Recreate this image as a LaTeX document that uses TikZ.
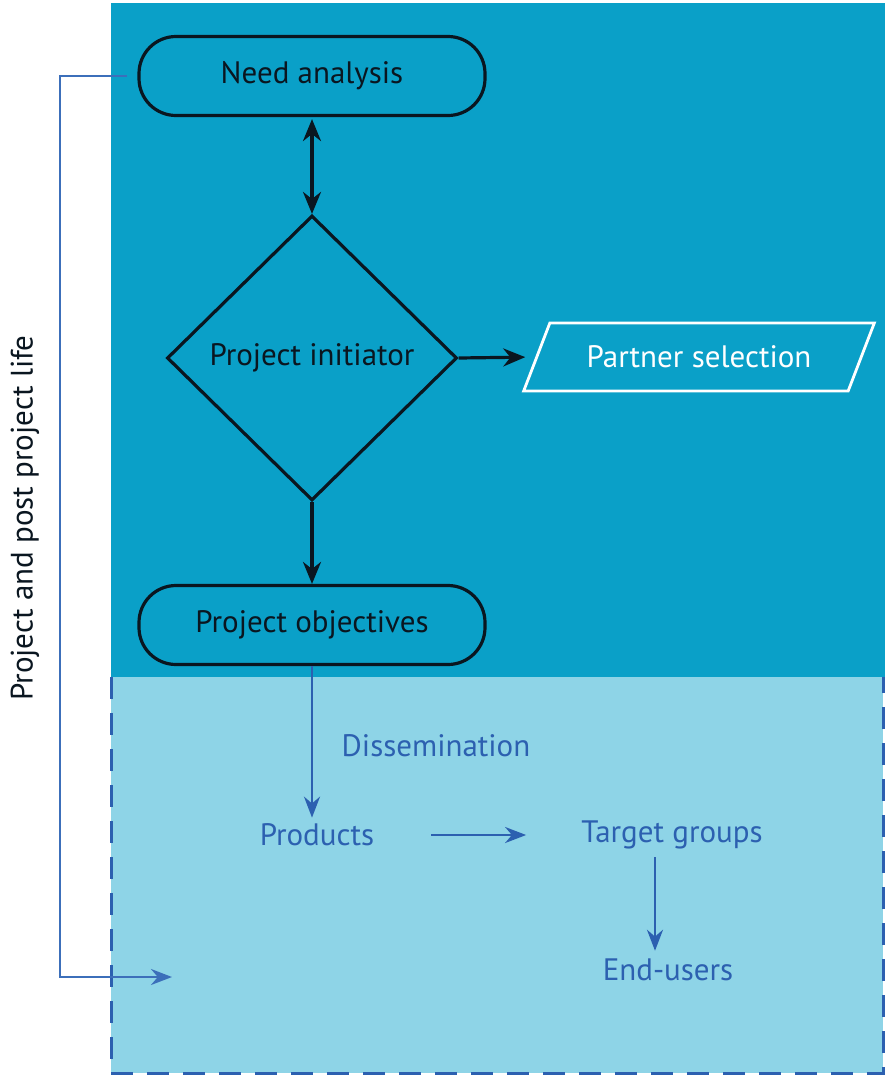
\documentclass[tikz,border=0pt]{standalone}
\usepackage{fontspec}
\setmainfont{PT Sans}
\usetikzlibrary{shapes.geometric,arrows.meta}
\definecolor{darkbg}{HTML}{0AA0C8}
\definecolor{lightbg}{HTML}{8ED4E7}
\definecolor{dblue}{HTML}{2C60B0}
\definecolor{lblue}{HTML}{3C6FBA}
\definecolor{ink}{HTML}{0A1620}
\tikzset{
  lbl/.style={font=\fontsize{31}{36}\selectfont, text=ink},
  blbl/.style={font=\fontsize{31}{36}\selectfont, text=dblue, inner sep=0pt},
  pill/.style={draw=ink, line width=3.2pt, rounded corners=37pt, minimum width=346pt, minimum height=79pt, lbl},
  blk/.style={draw=ink, line width=3.2pt, -{Stealth[length=22pt,width=18pt]}},
  blu/.style={draw=dblue, line width=2.6pt, -{Stealth[length=21pt,width=16pt]}},
}
\begin{document}
\begin{tikzpicture}[x=1pt,y=-1pt]
\useasboundingbox (0,0) rectangle (885,1077);
\fill[white] (0,0) rectangle (885,1077);
% backgrounds
\fill[darkbg] (111,3) rectangle (885,677);
\fill[lightbg] (111,677) rectangle (883,1073);
\draw[dblue, line width=3pt, dash pattern=on 22pt off 14pt] (111,677) -- (111,1073) -- (883,1073) -- (883,677);
% nodes
\node[pill] (need) at (312,76) {Need analysis};
\node[diamond, draw=ink, line width=3.2pt, minimum width=290pt, minimum height=285pt, inner sep=0pt, lbl] (init) at (312,358) {Project initiator};
\node[pill] (obj) at (312,625) {Project objectives};
\node[trapezium, trapezium left angle=55, trapezium right angle=125, trapezium stretches=true, draw=white, line width=2.8pt, minimum width=352pt, minimum height=68pt, font=\fontsize{31}{36}\selectfont, text=white] (partner) at (699,357) {Partner selection};
\node[blbl] (dissem) at (436,746) {Dissemination};
\node[blbl] (products) at (317,835) {Products};
\node[blbl] (target) at (672,835) {Target groups};
\node[blbl] (endu) at (668,970) {End-users};
\node[lbl, rotate=90] (life) at (25,518) {Project and post project life};
\coordinate (back) at (172,977);
% connectors
\draw[blk, {Stealth[length=22pt,width=18pt]}-{Stealth[length=22pt,width=18pt]}, shorten <=2pt] (need.south) -- (init.north);
\draw[blk] (init.south) -- (obj.north);
\draw[blk, shorten >=10pt] (init.east) -- (partner.west);
\draw[blu, shorten >=6pt] (obj.south) -- (obj.south |- products.north);
\draw[blu, shorten <=57pt, shorten >=55pt] (products.east) -- (target.west);
\draw[blu, shorten <=8pt, shorten >=8pt] ([xshift=-17pt]target.south) -- ([xshift=-13pt]endu.north);
\draw[lblue, line width=2.6pt, -{Stealth[length=21pt,width=16pt]}] ([xshift=-10pt]need.west) -- (60,76) -- (60,977) -- (back);
\end{tikzpicture}
\end{document}
